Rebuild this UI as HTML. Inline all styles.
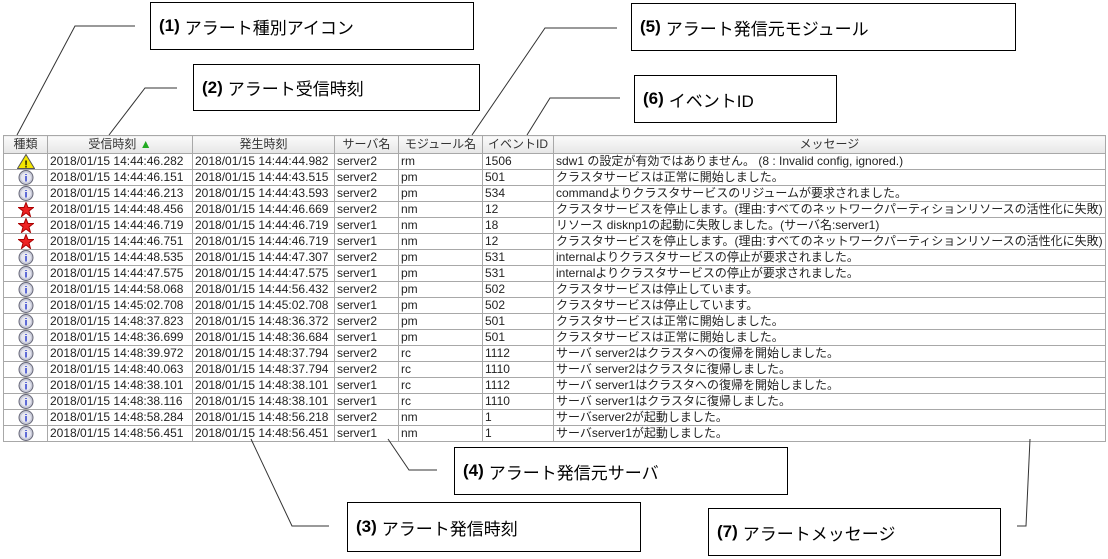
<!DOCTYPE html><html><head><meta charset="utf-8"><style>
body{margin:0;width:1108px;height:559px;background:#fff;position:relative;overflow:hidden;font-family:"Liberation Sans","Noto Sans CJK JP",sans-serif}
.box{position:absolute;border:1px solid #000;box-sizing:border-box;font-size:17px;display:flex;align-items:center;padding-left:8px;color:#000}
.box b{margin-right:5px}
table{position:absolute;left:3px;top:135px;border-collapse:collapse;table-layout:fixed;font-size:12px;color:#222}
td,th{border:1px solid #a8a8a8;height:15px;padding:0 2px;white-space:nowrap;overflow:hidden;line-height:15px}
th{font-weight:normal;background:linear-gradient(#fafafa,#e6e6e6);height:17px;color:#333}
td.ic{text-align:center;padding:0}
svg.i{display:block;margin:0 auto}
</style></head><body>
<svg width="1108" height="559" style="position:absolute;left:0;top:0;z-index:2" fill="none" stroke="#333" stroke-width="1">
<polyline points="135,26 75,26 17,135"/>
<polyline points="177,88 145,88 109,135"/>
<polyline points="617,28 545,28 472,135"/>
<polyline points="620,98 550,98 527,135"/>
<polyline points="388,439 409,470 437,470"/>
<polyline points="251,439 292,526 329,526"/>
<polyline points="1030,439 1026,526 1017,526"/>
</svg>
<div class="box" style="left:150px;top:2px;width:324px;height:48px"><b>(1)</b>アラート種別アイコン</div>
<div class="box" style="left:193px;top:64px;width:287px;height:47px"><b>(2)</b>アラート受信時刻</div>
<div class="box" style="left:631px;top:3px;width:385px;height:48px"><b>(5)</b>アラート発信元モジュール</div>
<div class="box" style="left:634px;top:75px;width:203px;height:48px"><b>(6)</b>イベントID</div>
<div class="box" style="left:454px;top:447px;width:334px;height:48px"><b>(4)</b>アラート発信元サーバ</div>
<div class="box" style="left:347px;top:502px;width:294px;height:50px"><b>(3)</b>アラート発信時刻</div>
<div class="box" style="left:708px;top:508px;width:293px;height:48px"><b>(7)</b>アラートメッセージ</div>
<table>
<colgroup><col style="width:44px"><col style="width:145px"><col style="width:142px"><col style="width:64px"><col style="width:84px"><col style="width:71px"><col style="width:551px"></colgroup>
<tr><th>種類</th><th>受信時刻 <span style="color:#2a2">▲</span></th><th>発生時刻</th><th>サーバ名</th><th>モジュール名</th><th>イベントID</th><th>メッセージ</th></tr>
<tbody id="tb"></tbody>
</table>
<script>
var W='<svg class="i" width="18" height="15"><polygon points="9,0.5 17.5,14.5 0.5,14.5" fill="#f4e600" stroke="#555"/><text x="9" y="13.5" font-size="10" text-anchor="middle" fill="#000" font-weight="bold">!</text></svg>';
var I='<svg class="i" width="16" height="15"><circle cx="8" cy="7.5" r="7" fill="#c8cad8" stroke="#667"/><circle cx="8" cy="7.5" r="5" fill="#e8e8f0"/><text x="8" y="11.5" font-size="10" text-anchor="middle" fill="#23c" font-weight="bold">i</text></svg>';
var S='<svg class="i" width="16" height="15"><polygon points="8,0.5 10,5.5 15.5,5.5 11,9 12.5,14.5 8,11 3.5,14.5 5,9 0.5,5.5 6,5.5" fill="#e22" stroke="#a00"/></svg>';
var R=[[W,"2018/01/15 14:44:46.282","2018/01/15 14:44:44.982","server2","rm","1506","sdw1 の設定が有効ではありません。 (8 : Invalid config, ignored.)"],
[I,"2018/01/15 14:44:46.151","2018/01/15 14:44:43.515","server2","pm","501","クラスタサービスは正常に開始しました。"],
[I,"2018/01/15 14:44:46.213","2018/01/15 14:44:43.593","server2","pm","534","commandよりクラスタサービスのリジュームが要求されました。"],
[S,"2018/01/15 14:44:48.456","2018/01/15 14:44:46.669","server2","nm","12","クラスタサービスを停止します。(理由:すべてのネットワークパーティションリソースの活性化に失敗)"],
[S,"2018/01/15 14:44:46.719","2018/01/15 14:44:46.719","server1","nm","18","リソース disknp1の起動に失敗しました。(サーバ名:server1)"],
[S,"2018/01/15 14:44:46.751","2018/01/15 14:44:46.719","server1","nm","12","クラスタサービスを停止します。(理由:すべてのネットワークパーティションリソースの活性化に失敗)"],
[I,"2018/01/15 14:44:48.535","2018/01/15 14:44:47.307","server2","pm","531","internalよりクラスタサービスの停止が要求されました。"],
[I,"2018/01/15 14:44:47.575","2018/01/15 14:44:47.575","server1","pm","531","internalよりクラスタサービスの停止が要求されました。"],
[I,"2018/01/15 14:44:58.068","2018/01/15 14:44:56.432","server2","pm","502","クラスタサービスは停止しています。"],
[I,"2018/01/15 14:45:02.708","2018/01/15 14:45:02.708","server1","pm","502","クラスタサービスは停止しています。"],
[I,"2018/01/15 14:48:37.823","2018/01/15 14:48:36.372","server2","pm","501","クラスタサービスは正常に開始しました。"],
[I,"2018/01/15 14:48:36.699","2018/01/15 14:48:36.684","server1","pm","501","クラスタサービスは正常に開始しました。"],
[I,"2018/01/15 14:48:39.972","2018/01/15 14:48:37.794","server2","rc","1112","サーバ server2はクラスタへの復帰を開始しました。"],
[I,"2018/01/15 14:48:40.063","2018/01/15 14:48:37.794","server2","rc","1110","サーバ server2はクラスタに復帰しました。"],
[I,"2018/01/15 14:48:38.101","2018/01/15 14:48:38.101","server1","rc","1112","サーバ server1はクラスタへの復帰を開始しました。"],
[I,"2018/01/15 14:48:38.116","2018/01/15 14:48:38.101","server1","rc","1110","サーバ server1はクラスタに復帰しました。"],
[I,"2018/01/15 14:48:58.284","2018/01/15 14:48:56.218","server2","nm","1","サーバserver2が起動しました。"],
[I,"2018/01/15 14:48:56.451","2018/01/15 14:48:56.451","server1","nm","1","サーバserver1が起動しました。"]];
var h='';R.forEach(function(r){h+='<tr><td class="ic">'+r[0]+'</td>';for(var k=1;k<7;k++)h+='<td>'+r[k]+'</td>';h+='</tr>';});
document.getElementById('tb').innerHTML=h;
</script>
</body></html>
